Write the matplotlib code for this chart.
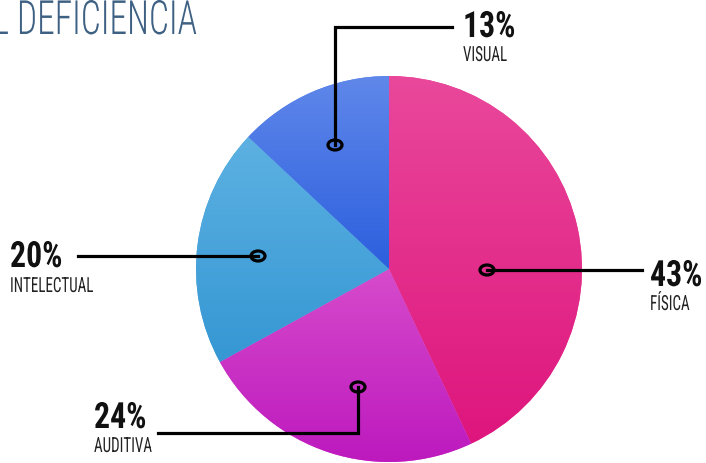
import numpy as np
import matplotlib
matplotlib.use("Agg")
import matplotlib.pyplot as plt
from matplotlib import font_manager
from matplotlib.colors import LinearSegmentedColormap
from matplotlib.patches import Ellipse
from matplotlib.patheffects import AbstractPathEffect
from matplotlib.transforms import Affine2D

# data
categories = ["FÍSICA", "AUDITIVA", "INTELECTUAL", "VISUAL"]
values = [43, 24, 20, 13]
pct_labels = ["43%", "24%", "20%", "13%"]
title_text = "L DEFICIÊNCIA"

# gradient colours per slice (top, bottom)
grad_colors = [("#E9489B", "#DE157D"),
               ("#D64BCB", "#BD19BE"),
               ("#5DB1E2", "#3597D3"),
               ("#6088EA", "#2C5FDE")]


class Squeeze(AbstractPathEffect):
    """Narrow the glyphs horizontally (text stays a Text artist)."""
    def __init__(self, sx):
        super().__init__()
        self.sx = sx

    def draw_path(self, renderer, gc, tpath, affine, rgbFace=None):
        renderer.draw_path(gc, tpath, Affine2D().scale(self.sx, 1) + affine, rgbFace)


# pick a condensed font if one is installed
names = {f.name for f in font_manager.fontManager.ttflist}
narrow = "DejaVu Sans"
for cand in ["Liberation Sans Narrow", "Roboto Condensed", "DejaVu Sans Condensed", "Open Sans Condensed"]:
    if cand in names:
        narrow = cand
        break

W, H = 706, 464
fig = plt.figure(figsize=(W / 100, H / 100), dpi=100)
ax = fig.add_axes([0, 0, 1, 1])

cx, cy, r = 389, H - 270, 193
wedges, _ = ax.pie(values, startangle=90, counterclock=False,
                   center=(cx, cy), radius=r,
                   colors=[c[0] for c in grad_colors],
                   wedgeprops=dict(linewidth=0))
ax.axis("off")

# vertical gradient inside each wedge
for w, (top, bot) in zip(wedges, grad_colors):
    ext = w.get_path().get_extents(w.get_transform() + ax.transData.inverted())
    cmap = LinearSegmentedColormap.from_list("g", [bot, top])
    grad = np.linspace(0, 1, 256).reshape(-1, 1)
    im = ax.imshow(grad, cmap=cmap, origin="lower", aspect="auto",
                   extent=(ext.x0, ext.x1, ext.y0, ext.y1), zorder=2)
    im.set_clip_path(w)
ax.set_xlim(0, W)
ax.set_ylim(0, H)
ax.set_aspect("auto")


def y(v):
    return H - v


lw = 2.3
# leader lines (image pixel coords)
leaders = {
    "FÍSICA": [(487, 271), (642, 271)],
    "AUDITIVA": [(358, 388), (358, 434), (158, 434)],
    "INTELECTUAL": [(258, 257), (78, 257)],
    "VISUAL": [(335, 146), (335, 28), (452, 28)],
}
for cat, pts in leaders.items():
    xs = [p[0] for p in pts]
    ys = [y(p[1]) for p in pts]
    ax.plot(xs, ys, color="black", lw=lw, zorder=4, solid_capstyle="projecting",
            solid_joinstyle="miter")
    ax.add_patch(Ellipse((xs[0], ys[0]), 14, 10, fc="none", ec="black", lw=lw, zorder=5))

# labels: left x, pct baseline, category baseline
label_pos = {
    "VISUAL": (463, 38, 62),
    "INTELECTUAL": (10, 268, 293),
    "AUDITIVA": (94, 429, 453),
    "FÍSICA": (650, 287, 311),
}
for cat, pct in zip(categories, pct_labels):
    lx, pb, cb = label_pos[cat]
    ax.text(lx, y(pb), pct, fontsize=26, fontweight="bold", family=narrow,
            ha="left", va="baseline", color="#111111", zorder=6,
            path_effects=[Squeeze(0.88)])
    ax.text(lx, y(cb), cat, fontsize=15, family=narrow,
            ha="left", va="baseline", color="#222222", zorder=6,
            path_effects=[Squeeze(0.72)])

# title, cut off at the left edge like the reference
fig.canvas.draw()
rend = fig.canvas.get_renderer()
t_sx = 0.75
probe = ax.text(0, 0, "L ", fontsize=34, family=narrow, fontweight="light")
w_prefix = probe.get_window_extent(rend).width
probe.remove()
ax.text(17 - t_sx * w_prefix, y(35), title_text, fontsize=34, family=narrow,
        fontweight="light", color="#3E6183", ha="left", va="baseline", zorder=6,
        path_effects=[Squeeze(t_sx)])

fig.savefig("out.png", dpi=100)
